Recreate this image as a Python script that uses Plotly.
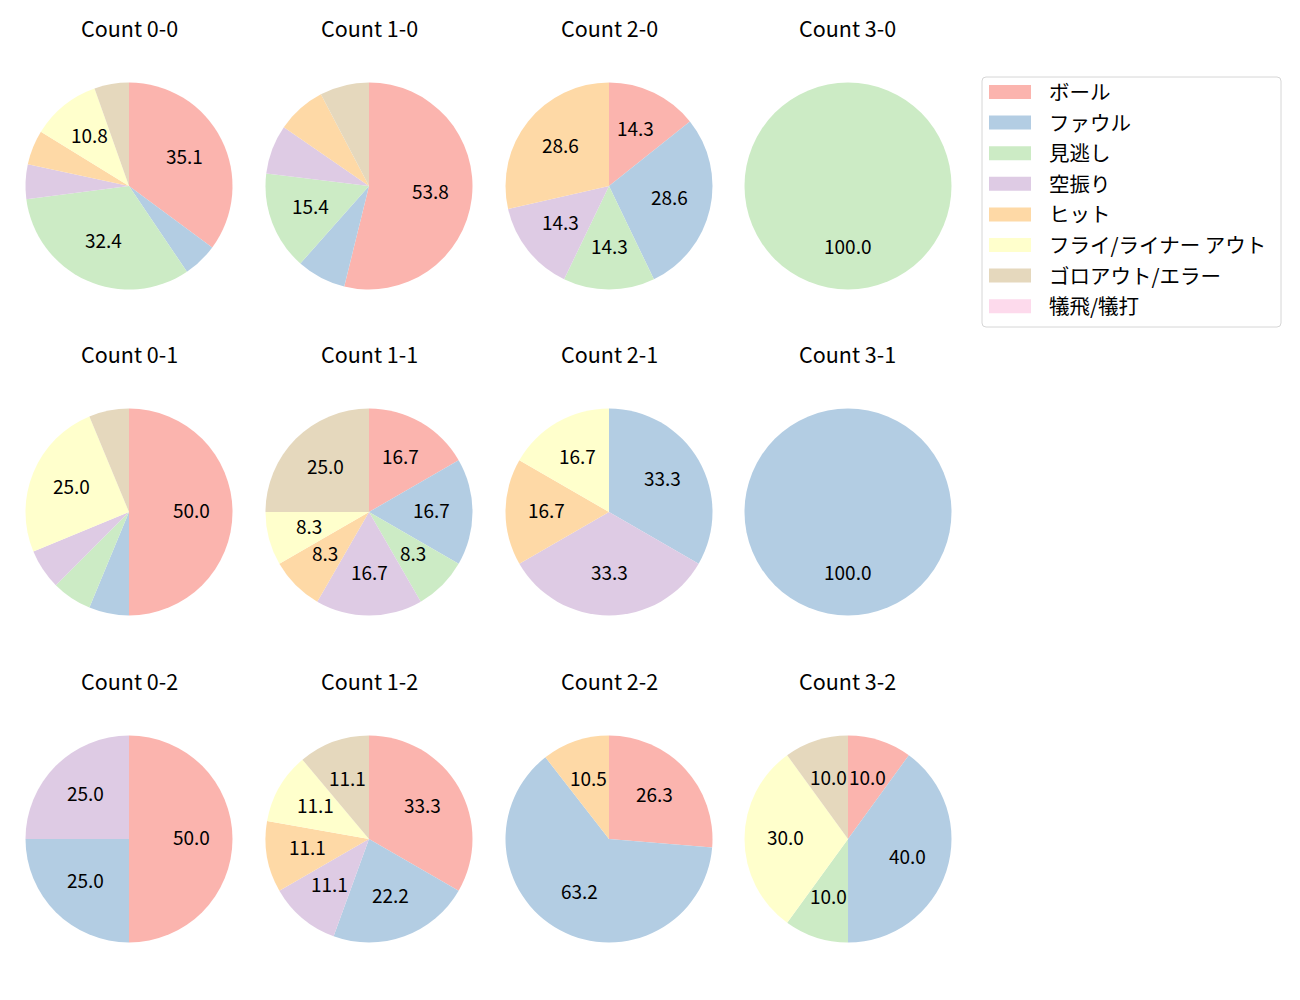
import math
import plotly.graph_objects as go

# ---- data ----
categories = ["ボール", "ファウル", "見逃し", "空振り", "ヒット",
              "フライ/ライナー アウト", "ゴロアウト/エラー", "犠飛/犠打"]
colors = ["#fbb4ae", "#b3cde3", "#ccebc5", "#decbe4", "#fed9a6",
          "#ffffcc", "#e5d8bd", "#fddaec"]

count_titles = [["Count 0-0", "Count 1-0", "Count 2-0", "Count 3-0"],
                ["Count 0-1", "Count 1-1", "Count 2-1", "Count 3-1"],
                ["Count 0-2", "Count 1-2", "Count 2-2", "Count 3-2"]]

c00 = [13, 2, 12, 2, 2, 4, 2, 0]
c10 = [7, 1, 2, 1, 1, 0, 1, 0]
c20 = [1, 2, 1, 1, 2, 0, 0, 0]
c30 = [0, 0, 1, 0, 0, 0, 0, 0]
c01 = [8, 1, 1, 1, 0, 4, 1, 0]
c11 = [2, 2, 1, 2, 1, 1, 3, 0]
c21 = [0, 2, 0, 2, 1, 1, 0, 0]
c31 = [0, 1, 0, 0, 0, 0, 0, 0]
c02 = [2, 1, 0, 1, 0, 0, 0, 0]
c12 = [3, 2, 0, 1, 1, 1, 1, 0]
c22 = [5, 12, 0, 0, 2, 0, 0, 0]
c32 = [1, 4, 1, 0, 0, 3, 1, 0]

grid_values = [[c00, c10, c20, c30],
               [c01, c11, c21, c31],
               [c02, c12, c22, c32]]

# ---- layout geometry (pixels) ----
W, H = 1300, 1000
col_cx = [129, 369, 609, 848]
row_cy = [186, 512, 839]
R = 103.5
FONT = "Noto Sans CJK JP"
LABEL_MIN_PCT = 8.0


def px(x):
    return x / W


def py(y):
    return 1 - y / H


fig = go.Figure()
annotations = []

for ri, row in enumerate(grid_values):
    for ci, vals in enumerate(row):
        cx, cy = col_cx[ci], row_cy[ri]
        fig.add_trace(go.Pie(
            labels=categories, values=vals, sort=False,
            direction="clockwise", rotation=0,
            marker=dict(colors=colors, line=dict(width=0)),
            textinfo="none", showlegend=False,
            domain=dict(x=[px(cx - R), px(cx + R)], y=[py(cy + R), py(cy - R)]),
        ))
        annotations.append(dict(
            text=count_titles[ri][ci], x=px(cx), y=py(cy - 159),
            xref="paper", yref="paper", showarrow=False,
            xanchor="center", yanchor="middle",
            font=dict(family=FONT, size=21.5, color="#000000")))
        total = sum(vals)
        cum = 0
        for v in vals:
            if v > 0:
                pct = 100 * v / total
                if pct >= LABEL_MIN_PCT:
                    a = math.radians(360 * (cum + v / 2) / total)
                    tx = cx + 0.6 * R * math.sin(a)
                    ty = cy - 0.6 * R * math.cos(a) - 3
                    annotations.append(dict(
                        text=f"{pct:.1f}", x=px(tx), y=py(ty),
                        xref="paper", yref="paper", showarrow=False,
                        xanchor="center", yanchor="middle",
                        font=dict(family=FONT, size=19, color="#000000")))
            cum += v

# ---- legend (drawn manually, matplotlib style) ----
shapes = []
lx0, lx1, ly0, ly1 = 982, 1281, 77, 327
rr = 4
path = (f"M {px(lx0 + rr)},{py(ly0)} L {px(lx1 - rr)},{py(ly0)} "
        f"Q {px(lx1)},{py(ly0)} {px(lx1)},{py(ly0 + rr)} "
        f"L {px(lx1)},{py(ly1 - rr)} Q {px(lx1)},{py(ly1)} {px(lx1 - rr)},{py(ly1)} "
        f"L {px(lx0 + rr)},{py(ly1)} Q {px(lx0)},{py(ly1)} {px(lx0)},{py(ly1 - rr)} "
        f"L {px(lx0)},{py(ly0 + rr)} Q {px(lx0)},{py(ly0)} {px(lx0 + rr)},{py(ly0)} Z")
shapes.append(dict(type="path", path=path, xref="paper", yref="paper",
                   line=dict(color="#d6d6d6", width=1), fillcolor="rgba(255,255,255,0.8)"))
row0, step = 92, 30.6
for i, (cat, col) in enumerate(zip(categories, colors)):
    yc = row0 + i * step
    shapes.append(dict(type="rect", xref="paper", yref="paper",
                       x0=px(989), x1=px(1031), y0=py(yc - 7), y1=py(yc + 7),
                       line=dict(width=0), fillcolor=col))
    annotations.append(dict(
        text=cat, x=px(1047), y=py(yc - 1), xref="paper", yref="paper",
        showarrow=False, xanchor="left", yanchor="middle",
        font=dict(family=FONT, size=20.5, color="#000000")))

fig.update_layout(
    width=W, height=H,
    margin=dict(l=0, r=0, t=0, b=0),
    paper_bgcolor="white", plot_bgcolor="white",
    annotations=annotations, shapes=shapes,
    showlegend=False,
)

fig.write_html("out.html")
